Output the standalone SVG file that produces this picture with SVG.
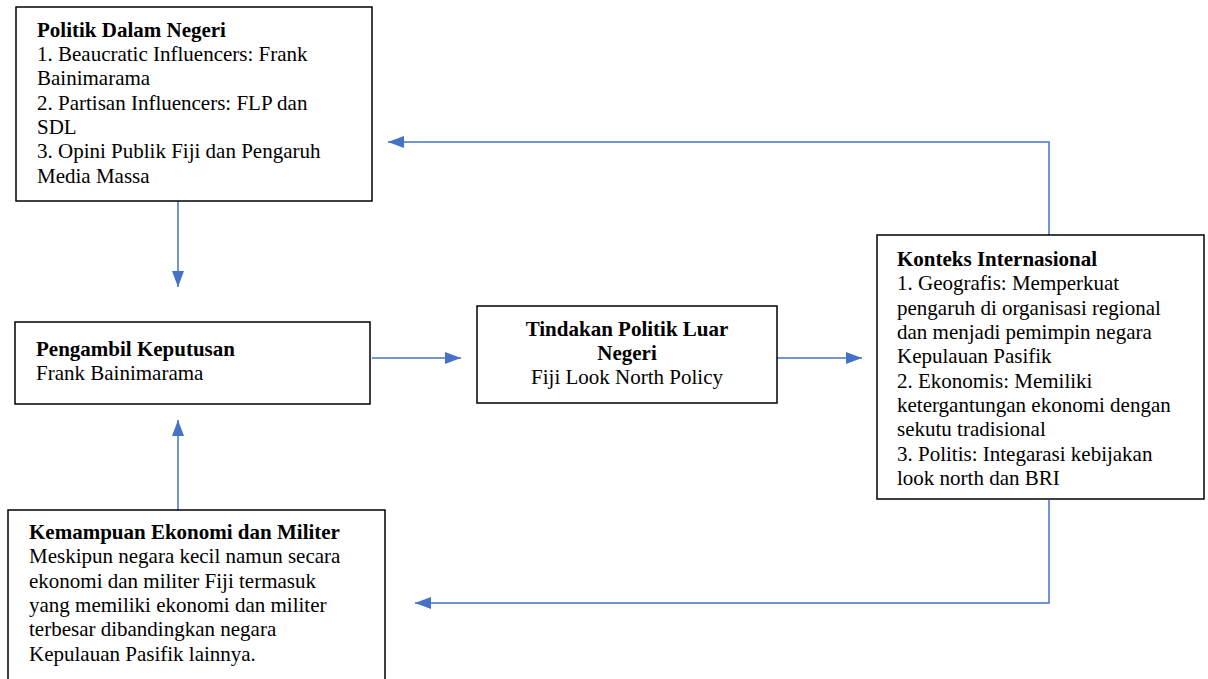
<svg xmlns="http://www.w3.org/2000/svg" width="1208" height="679" viewBox="0 0 1208 679">
<defs>
<style>
.box{fill:#fff;stroke:#000;stroke-width:1.5}
.c{stroke:#4472C4;stroke-width:1.5;fill:none}
</style>
<marker id="ah" markerWidth="16" markerHeight="12" refX="16" refY="6" orient="auto" markerUnits="userSpaceOnUse">
<path d="M0,0 L16,6 L0,12 Z" fill="#4472C4"/>
</marker>
</defs>
<rect width="1208" height="679" fill="#fff"/>
<g id="connectors">
<path class="c" d="M178,201 V287" marker-end="url(#ah)"/>
<path class="c" d="M372,358 H461" marker-end="url(#ah)"/>
<path class="c" d="M777,358 H862" marker-end="url(#ah)"/>
<path class="c" d="M1049,235 V142 H388" marker-end="url(#ah)"/>
<path class="c" d="M1049,500 V603 H415" marker-end="url(#ah)"/>
<path class="c" d="M178,510 V420" marker-end="url(#ah)"/>
</g>
<g id="politik-dalam-negeri">
<rect class="box" x="16" y="7" width="356" height="194"/>
<text x="37" y="37" font-family="Liberation Serif" font-size="21" font-weight="bold">Politik Dalam Negeri</text>
<text x="37" y="61" font-family="Liberation Serif" font-size="21">1. Beaucratic Influencers: Frank</text>
<text x="37" y="85" font-family="Liberation Serif" font-size="21">Bainimarama</text>
<text x="37" y="110" font-family="Liberation Serif" font-size="21">2. Partisan Influencers: FLP dan</text>
<text x="37" y="134" font-family="Liberation Serif" font-size="21">SDL</text>
<text x="37" y="158" font-family="Liberation Serif" font-size="21">3. Opini Publik Fiji dan Pengaruh</text>
<text x="37" y="183" font-family="Liberation Serif" font-size="21">Media Massa</text>
</g>
<g id="pengambil-keputusan">
<rect class="box" x="15" y="322" width="355" height="82"/>
<text x="36" y="356" font-family="Liberation Serif" font-size="21" font-weight="bold">Pengambil Keputusan</text>
<text x="36" y="380" font-family="Liberation Serif" font-size="21">Frank Bainimarama</text>
</g>
<g id="tindakan-politik">
<rect class="box" x="477" y="306" width="300" height="97"/>
<text x="627" y="336" font-family="Liberation Serif" font-size="21" font-weight="bold" text-anchor="middle">Tindakan Politik Luar</text>
<text x="627" y="360" font-family="Liberation Serif" font-size="21" font-weight="bold" text-anchor="middle">Negeri</text>
<text x="627" y="384" font-family="Liberation Serif" font-size="21" text-anchor="middle">Fiji Look North Policy</text>
</g>
<g id="konteks-internasional">
<rect class="box" x="877" y="235" width="327" height="264"/>
<text x="897" y="266" font-family="Liberation Serif" font-size="21" font-weight="bold">Konteks Internasional</text>
<text x="897" y="290" font-family="Liberation Serif" font-size="21">1. Geografis: Memperkuat</text>
<text x="897" y="315" font-family="Liberation Serif" font-size="21">pengaruh di organisasi regional</text>
<text x="897" y="339" font-family="Liberation Serif" font-size="21">dan menjadi pemimpin negara</text>
<text x="897" y="363" font-family="Liberation Serif" font-size="21">Kepulauan Pasifik</text>
<text x="897" y="388" font-family="Liberation Serif" font-size="21">2. Ekonomis: Memiliki</text>
<text x="897" y="412" font-family="Liberation Serif" font-size="21">ketergantungan ekonomi dengan</text>
<text x="897" y="436" font-family="Liberation Serif" font-size="21">sekutu tradisional</text>
<text x="897" y="461" font-family="Liberation Serif" font-size="21">3. Politis: Integarasi kebijakan</text>
<text x="897" y="485" font-family="Liberation Serif" font-size="21">look north dan BRI</text>
</g>
<g id="kemampuan-ekonomi">
<rect class="box" x="8" y="510" width="377" height="180"/>
<text x="29" y="539" font-family="Liberation Serif" font-size="21" font-weight="bold">Kemampuan Ekonomi dan Militer</text>
<text x="29" y="563" font-family="Liberation Serif" font-size="21">Meskipun negara kecil namun secara</text>
<text x="29" y="588" font-family="Liberation Serif" font-size="21">ekonomi dan militer Fiji termasuk</text>
<text x="29" y="612" font-family="Liberation Serif" font-size="21">yang memiliki ekonomi dan militer</text>
<text x="29" y="636" font-family="Liberation Serif" font-size="21">terbesar dibandingkan negara</text>
<text x="29" y="661" font-family="Liberation Serif" font-size="21">Kepulauan Pasifik lainnya.</text>
</g>
</svg>
